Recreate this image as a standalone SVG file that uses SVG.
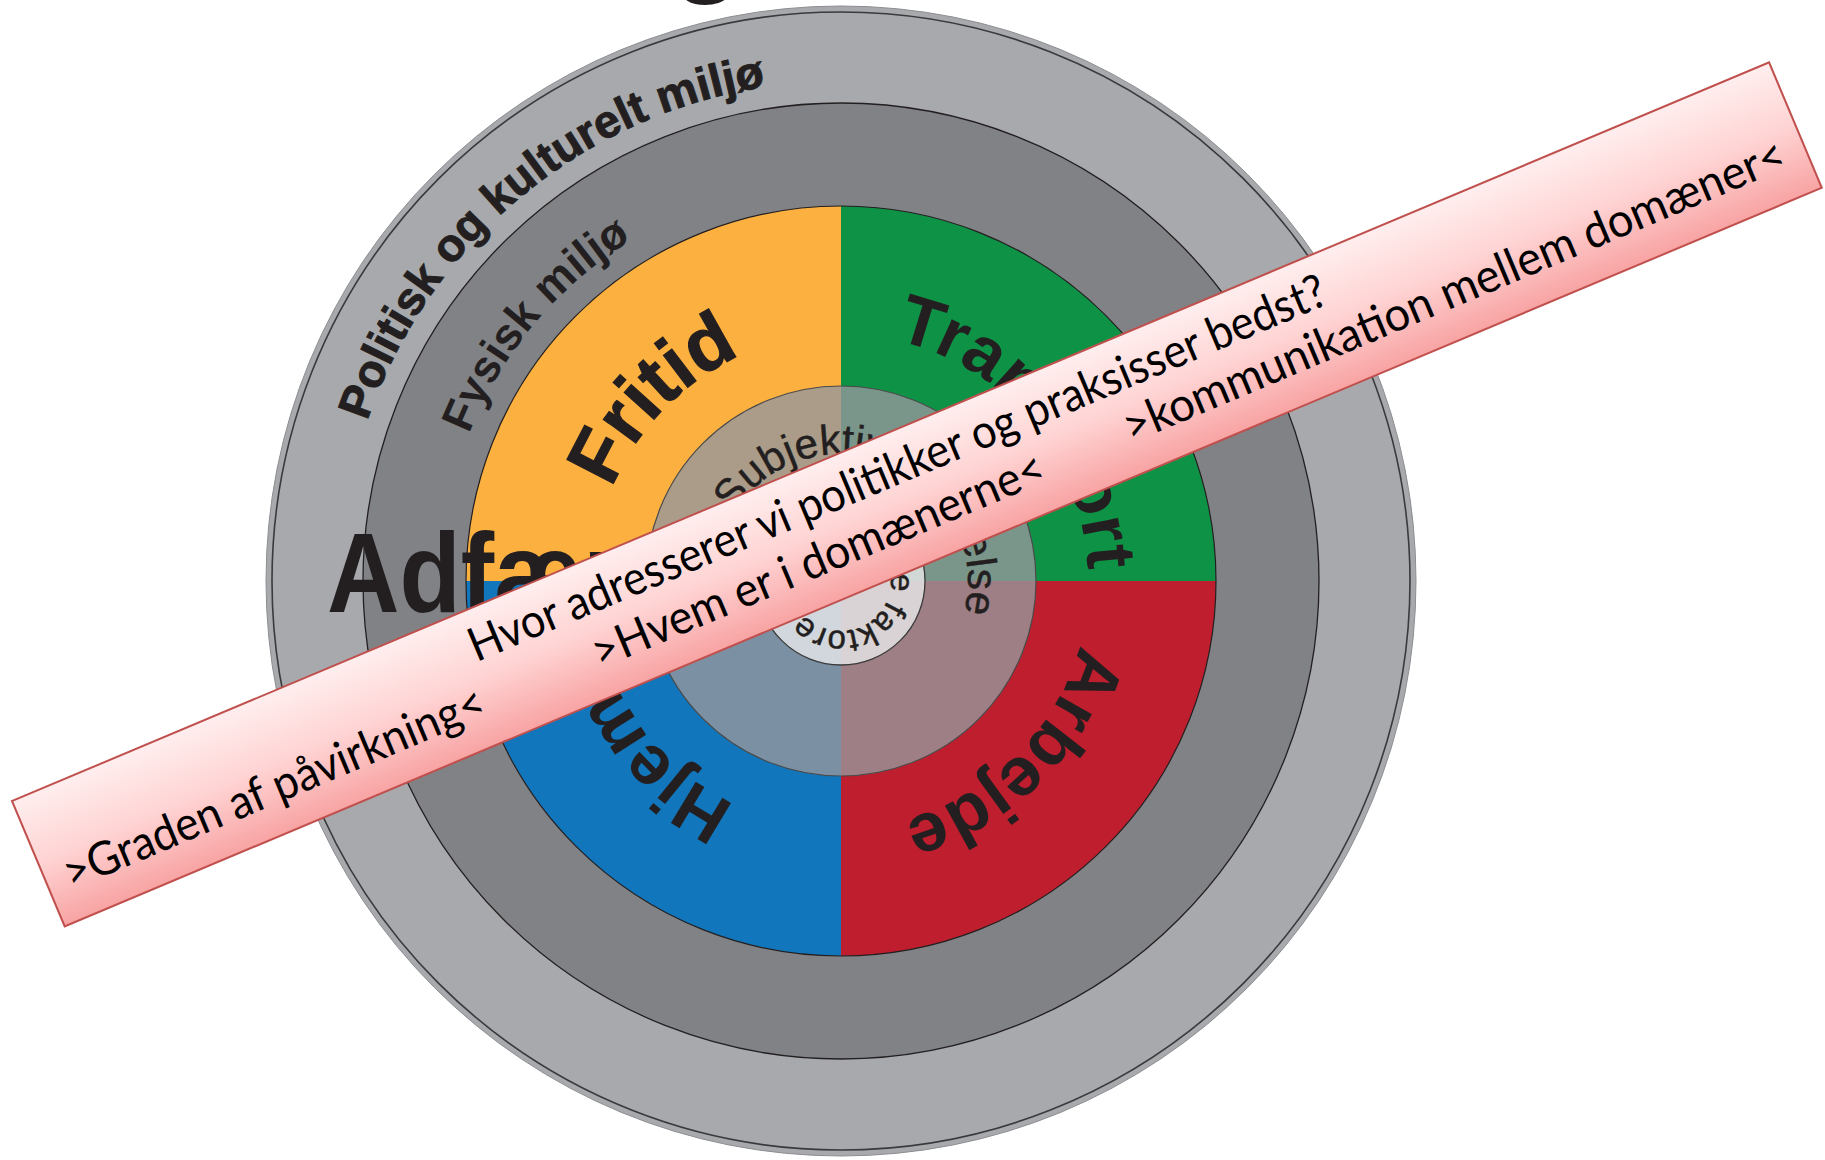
<svg xmlns="http://www.w3.org/2000/svg" width="1825" height="1160" viewBox="0 0 1825 1160">
<defs>
  <linearGradient id="bannerFill" x1="0" y1="0" x2="0" y2="1">
    <stop offset="0" stop-color="#FFEEEE"/>
    <stop offset="0.5" stop-color="#FFD3D3"/>
    <stop offset="1" stop-color="#F8A3A3"/>
  </linearGradient>
  <path id="arcOuter" d="M 341,581 A 500,500 0 1,1 1341,581 A 500,500 0 1,1 341,581"/>
  <path id="arcPhys" d="M 441,581 A 400,400 0 1,1 1241,581 A 400,400 0 1,1 441,581"/>
  <path id="arcDom" d="M 594,581 A 247,247 0 1,1 1088,581 A 247,247 0 1,1 594,581"/>
  <path id="arcSubj" d="M 714,581 A 127,127 0 1,1 968,581 A 127,127 0 1,1 714,581"/>
  <path id="arcInd" d="M 791,581 A 50,50 0 1,1 891,581 A 50,50 0 1,1 791,581"/>
</defs>
<style>
  .lbl { font-family: "Liberation Sans", Arial, sans-serif; font-weight: bold; fill: #231F20; }
  .inner { font-family: "Liberation Sans", Arial, sans-serif; fill: #231F20; stroke: #231F20; stroke-width: 0.5px; }
  .ban { font-family: "Lato", "Carlito", "Liberation Sans", sans-serif; font-size: 47px; fill: #000; }
  .edge { stroke: #231F20; }
</style>

<text id="title-fragment" class="lbl" x="707" y="-20" font-size="116" text-anchor="middle">g</text>

<g id="ring-political">
  <circle cx="841" cy="581" r="575" fill="#A7A9AC" stroke="#8C8E91" stroke-width="1"/>
  <circle cx="841" cy="581" r="569" fill="none" stroke="#3A3A3C" stroke-width="1.6"/>
  <text class="lbl" font-size="46" stroke="#231F20" stroke-width="1"><textPath href="#arcOuter" startOffset="436.3" text-anchor="middle">Politisk og kulturelt miljø</textPath></text>
</g>

<g id="ring-physical">
  <circle cx="841" cy="581" r="478" fill="#808285" class="edge" stroke-width="1.3"/>
  <text class="lbl" font-size="45"><textPath href="#arcPhys" startOffset="279.3" text-anchor="middle">Fysisk miljø</textPath></text>
</g>

<g id="domains">
  <path id="q-fritid" d="M841,581 L466,581 A375,375 0 0,1 841,206 Z" fill="#FBB040"/>
  <path id="q-transport" d="M841,581 L841,206 A375,375 0 0,1 1216,581 Z" fill="#0E9346"/>
  <path id="q-arbejde" d="M841,581 L1216,581 A375,375 0 0,1 841,956 Z" fill="#BE1E2D"/>
  <path id="q-hjem" d="M841,581 L841,956 A375,375 0 0,1 466,581 Z" fill="#1176BC"/>
  <circle cx="841" cy="581" r="375" fill="none" class="edge" stroke-width="1.2"/>
  <text class="lbl" font-size="76" stroke="#231F20" stroke-width="1.2"><textPath href="#arcDom" startOffset="189.7" text-anchor="middle">Fritid</textPath></text>
  <text class="lbl" font-size="70"><textPath href="#arcDom" startOffset="603.5" text-anchor="middle">Transport</textPath></text>
  <text class="lbl" font-size="70"><textPath href="#arcDom" startOffset="970" text-anchor="middle">Arbejde</textPath></text>
  <text class="lbl" font-size="70"><textPath href="#arcDom" startOffset="1357.9" text-anchor="middle">Hjem</textPath></text>
</g>

<g id="ring-subjective">
  <circle cx="841" cy="581" r="195" fill="#96979B" fill-opacity="0.8" stroke="#4A4A4A" stroke-width="1.2"/>
  <text class="inner" font-size="42"><textPath href="#arcSubj" startOffset="251.4" text-anchor="middle">Subjektiv oplevelse</textPath></text>
</g>

<g id="core-individual">
  <circle cx="841" cy="581" r="84" fill="#E9EAEC" fill-opacity="0.78" stroke="#3A3A3A" stroke-width="1.3"/>
  <text class="inner" font-size="33"><textPath href="#arcInd" startOffset="2.1">Individuelle faktorer</textPath></text>
</g>

<g id="behaviour-label">
  <text class="lbl" font-size="114" transform="translate(327,612) scale(0.88,1)" x="0" y="0">Adfærd</text>
</g>

<g id="banner" transform="translate(12,801) rotate(-22.8)">
  <rect x="0" y="0" width="1906" height="136" fill="url(#bannerFill)" stroke="#C0504D" stroke-width="2"/>
  <text class="ban" x="482" y="52" textLength="926" lengthAdjust="spacingAndGlyphs">Hvor adresserer vi politikker og praksisser bedst?</text>
  <text class="ban" x="20" y="105" textLength="453" lengthAdjust="spacingAndGlyphs">&gt;Graden af påvirkning&lt;</text>
  <text class="ban" x="593" y="106" textLength="487" lengthAdjust="spacingAndGlyphs">&gt;Hvem er i domænerne&lt;</text>
  <text class="ban" x="1170" y="104" textLength="714" lengthAdjust="spacingAndGlyphs">&gt;kommunikation mellem domæner&lt;</text>
</g>
</svg>
